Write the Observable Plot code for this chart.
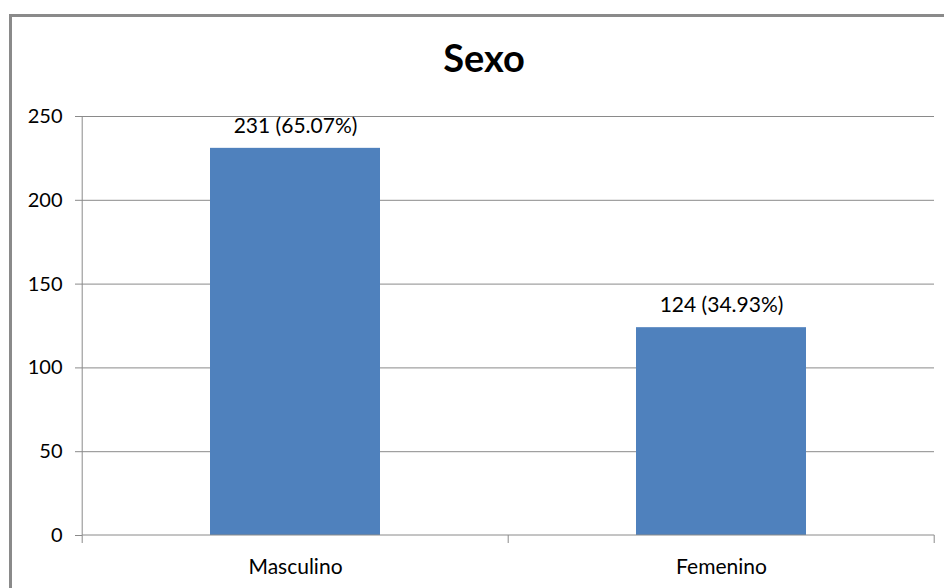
<!DOCTYPE html>
<html>
<head>
<meta charset="utf-8">
<script src="https://cdn.jsdelivr.net/npm/d3@7"></script>
<script src="https://cdn.jsdelivr.net/npm/@observablehq/plot@0.6"></script>
<style>
  html, body { margin: 0; padding: 0; background: #fff; overflow: hidden; }
  #page { position: relative; width: 944px; height: 588px; overflow: hidden; }
  #frameTop { position: absolute; left: 9px; top: 14px; width: 935px; height: 3px; background: #8a8a8a; }
  #frameLeft { position: absolute; left: 9px; top: 14px; width: 3px; height: 574px; background: #8a8a8a; }
  #title { position: absolute; top: 34px; left: 384px; width: 200px; text-align: center; font-family: Lato, sans-serif; font-weight: bold; font-size: 38px; color: #000; }
  #chart { position: absolute; left: 0; top: 90px; width: 944px; height: 498px; }
</style>
</head>
<body>
<div id="page">
  <div id="frameTop"></div>
  <div id="frameLeft"></div>
  <div id="title">Sexo</div>
  <div id="chart"></div>
</div>
<script>
const categories = ["Masculino", "Femenino"];
const counts = [231, 124];
const percents = ["65.07%", "34.93%"];
const yTicks = [0, 50, 100, 150, 200, 250];

const data = categories.map((c, i) => ({ cat: c, n: counts[i], label: `${counts[i]} (${percents[i]})` }));

const W = 944, H = 498;
const mL = 82, mR = 10, mT = 26, mB = 53;
const gray = "#8a8a8a";

// category-axis line, boundary ticks at band edges and the left axis line, derived from the scales
const axisLines = (index, scales) => {
  const x = scales.x, y = scales.y;
  const step = x.step();
  const edges = [];
  categories.forEach((c, i) => { const start = x(c) - step * 0.3; if (i === 0) edges.push(start); edges.push(start + step); });
  const g = d3.create("svg:g").attr("stroke", gray).attr("stroke-width", 1);
  const y0 = y(0);
  edges.forEach(e => {
    g.append("line").attr("x1", e).attr("x2", e).attr("y1", y0).attr("y2", y0 + 8);
  });
  g.append("line").attr("x1", edges[0]).attr("x2", edges[edges.length - 1]).attr("y1", y0).attr("y2", y0);
  g.append("line").attr("x1", edges[0]).attr("x2", edges[0]).attr("y1", y(250)).attr("y2", y0);
  return g.node();
};

const plot = Plot.plot({
  width: W,
  height: H,
  marginLeft: mL,
  marginRight: mR,
  marginTop: mT,
  marginBottom: mB,
  style: { fontFamily: "Lato, sans-serif", fontSize: "20px", color: "#000", background: "transparent" },
  x: { domain: categories, paddingInner: 0.6, paddingOuter: 0.3, label: null },
  y: { domain: [0, 250], label: null },
  marks: [
    Plot.ruleY(yTicks.filter(d => d > 0), { stroke: gray, strokeWidth: 1, strokeOpacity: 1 }),
    Plot.barY(data, { x: "cat", y: "n", fill: "#4f81bd" }),
    Plot.text(data, { x: "cat", y: "n", text: "label", dy: -22, fontSize: 21, fill: "#000" }),
    Plot.axisY({ ticks: yTicks, tickSize: 7, tickPadding: 13, stroke: gray, fill: "#000", fontSize: 20 }),
    Plot.axisX({ tickSize: 0, tickPadding: 24, fill: "#000", fontSize: 21 }),
    axisLines
  ]
});
document.getElementById("chart").appendChild(plot);
</script>
</body>
</html>
